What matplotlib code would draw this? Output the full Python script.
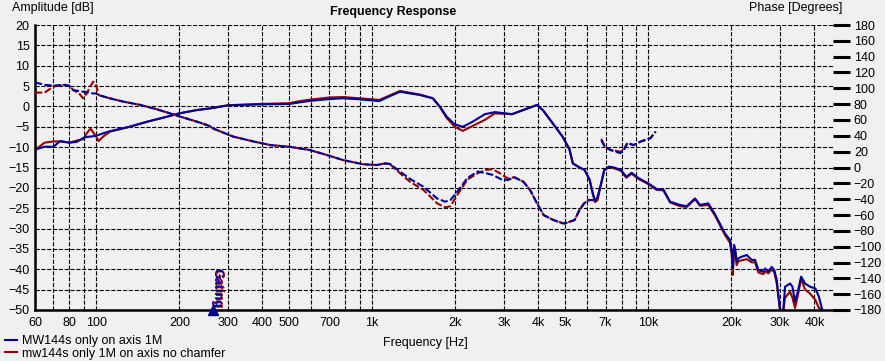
import numpy as np
import matplotlib
matplotlib.use("Agg")
import matplotlib.pyplot as plt
from matplotlib import transforms

plt.rcParams['font.family'] = ['Liberation Sans Narrow', 'Liberation Sans', 'DejaVu Sans']
plt.rcParams['font.size'] = 9

BLUE = '#000096'
RED = '#960000'
BG = '#F0F0F0'

# amplitude (dB) readings
amp_freq = [60, 65, 70, 74, 80, 85, 90, 92.4, 95.4, 100, 102, 106, 112, 132, 153, 174, 200,
            231, 257, 300, 391, 500, 546, 600, 700, 783, 900, 1060, 1157, 1260, 1491, 1658,
            1760, 1860, 1990, 2130, 2310, 2560, 2780, 3210, 3520, 3950, 4150, 4500, 4890,
            5180, 5330, 5640, 5880, 6130, 6300, 6420, 6550, 6750, 6930, 7220, 7520, 7960,
            8330, 8700, 9160, 10010, 10730, 11340, 12000, 13040, 13780, 14770, 15400, 16500,
            17450, 18970, 19780, 20070, 20250, 20450, 20630, 20900, 21200, 21820, 22740,
            23710, 24380, 25060, 26120, 26500, 27240, 28010, 28630, 29210, 30020, 30860,
            31300, 32640, 33300, 34020, 34920, 35800, 37000, 38600, 40300, 41500, 42700]
amp_blue = [-10.6, -9.9, -9.9, -8.5, -8.9, -8.7, -7.7, -7.5, -7.4, -7.2, -7.0, -6.6, -6.1,
            -5.0, -3.75, -2.8, -1.7, -0.9, -0.5, 0.25, 0.5, 0.6, 1.0, 1.4, 1.8, 2.0, 1.75,
            1.3, 2.5, 3.6, 2.8, 2.0, -0.1, -2.5, -4.4, -5.0, -3.75, -1.9, -1.4, -1.9, -0.9,
            0.35, -0.9, -4.1, -7.4, -10.5, -14, -15, -15.6, -18, -21.4, -23.3, -22.2, -18.9,
            -15.6, -14.8, -15, -15.6, -17.3, -16.3, -17.5, -18.9, -20.3, -20.4, -23.4, -24.2,
            -24.5, -22.6, -24.2, -23.8, -26.5, -31.2, -32.8, -35.7, -39.7, -34, -34.8, -38,
            -37.3, -36.9, -36.5, -37.7, -37.7, -40.2, -40.6, -39.8, -40.6, -39.4, -40.2,
            -42.6, -50, -50, -44.3, -43.5, -44.3, -48, -45.1, -41.8, -43.5, -44.3, -44.7,
            -46.7, -50]
amp_red = [-10.7, -8.9, -8.6, -8.6, -8.9, -8.4, -8.0, -6.6, -5.4, -7.5, -8.5, -7.4, -6.2,
           -5.0, -3.75, -2.8, -1.7, -0.9, -0.5, 0.3, 0.6, 0.8, 1.3, 1.7, 2.2, 2.3, 2.0,
           1.6, 2.7, 3.8, 2.9, 2.0, -0.2, -2.8, -5.0, -6.0, -4.8, -3.3, -1.7, -1.9, -0.9,
           0.35, -0.9, -4.1, -7.4, -10.5, -14, -15, -15.6, -18, -21.6, -23.5, -23, -19,
           -15.6, -14.8, -15.2, -15.8, -17.5, -16.5, -17.7, -19.1, -20.5, -20.6, -23.6, -24.5,
           -24.7, -22.8, -24.4, -24.2, -26.8, -31.6, -33.5, -36.5, -41.4, -35, -35.5, -39,
           -38, -37.8, -37.5, -38.3, -38.3, -40.8, -41.2, -40.5, -41, -40, -40.8,
           -43.5, -50, -50, -47, -45.5, -47, -49.5, -46, -42.3, -45, -46, -47.5,
           -49.5, -50]

# phase (degrees) readings, nan = gap in the trace
ph_freq = [60, 65, 70, 77, 80, 82.5, 86.7, 89.6, 92.4, 95.4, 97.6, 100, 102, 112, 125, 145,
           166, 188, 211, 238, 257, 265, 313, 371, 428, 502, 593, 683, 785, 927, 1039, 1110,
           1157, 1260, 1370, 1532, 1717, 1838, 1920, 2030, 2210, 2410, 2580, 2730, 2930,
           3100, 3270, 3530, 3730, 3950, 4180, 4530, 4910, 5000, 5410, 5640, 5860, 6100,
           6350, 6550, 6760, 6960, 7300, 7930, 8150, 8400, 8850, 9400, 10180, 10640]
ph_blue = [107.5, 104.4, 103.4, 104.4, 102.9, 97.7, 96.5, 95.7, 95, 94, 93.5, 93.6, 91.5,
           87.4, 83.3, 78.9, 73.5, 67.6, 62.2, 56.6, 52.5, 49.3, 39.1, 32.9, 28.3, 26.2,
           22.1, 15.9, 9.3, 4.1, 3.1, 5.1, 4.6, -5.1, -14.4, -24.2, -39.1, -43.2, -41.1,
           -30.9, -13.4, -5.1, -7.2, -9.3, -14.9, -15.9, -12.3, -18, -28.3, -45.2, -60.2,
           -66.3, -70.5, -70.5, -66.3, -53.5, -45.2, -41.1, -41.1, np.nan, 34.5, 26.2, 22.1,
           18.0, 22.1, 30.9, 28.3, 32.9, 37.0, 45.3]
ph_red = [94.6, 94.6, 102.3, 104.4, 102.9, 98, 93.6, 87.4, 93.6, 103, 108.5, 103.4, 91.5,
          87.4, 83.3, 78.9, 73.5, 67.6, 62.2, 56.6, 52.5, 49.3, 39.1, 32.9, 28.3, 26.2,
          22.1, 15.9, 9.3, 4.1, 3.1, 5.1, 4.6, -7.2, -18, -28.3, -45.2, -50.4, -48.9,
          -35, -15.4, -7.2, -3.1, -2.1, -8.2, -13.9, -12.3, -18, -28.3, -45.2, -60.2,
          -66.3, -70.5, -70.5, -66.3, -53.5, -45.2, -41.1, -41.1, np.nan, 36, 26.2, 22.1,
          20.0, 22.1, 30.9, 28.3, 32.9, 37.0, 45.3]

grid_freqs = [70, 80, 90, 100, 200, 300, 400, 500, 600, 700, 800, 900, 1000, 2000, 3000,
              4000, 5000, 6000, 7000, 8000, 9000, 10000, 20000, 30000, 40000]
tick_labels = {60: '60', 80: '80', 100: '100', 200: '200', 300: '300', 400: '400',
               500: '500', 700: '700', 1000: '1k', 2000: '2k', 3000: '3k', 4000: '4k',
               5000: '5k', 7000: '7k', 10000: '10k', 20000: '20k', 30000: '30k', 40000: '40k'}
gating_freq = 264.6

W, H = 885, 361
fig = plt.figure(figsize=(W / 100, H / 100), dpi=100, facecolor=BG)
ax = fig.add_axes([35 / W, 51 / H, 798 / W, 285 / H])
ax.set_facecolor(BG)
ax.set_xscale('log')
ax.set_xlim(60, 46700)
ax.set_ylim(-50, 20)

# grid
major = [60] + grid_freqs
ax.set_xticks(major)
ax.set_xticklabels([tick_labels.get(f, '') for f in major])
ax.set_xticks([f for f in grid_freqs if f not in tick_labels], minor=True)
ax.xaxis.set_minor_formatter(matplotlib.ticker.NullFormatter())
ax.set_yticks(np.arange(-50, 21, 5))
ax.tick_params(axis='x', which='major', length=0, pad=5)
ax.tick_params(axis='x', which='minor', length=5, width=0.8, color='black')
ax.tick_params(axis='y', length=0, pad=4)
ax.grid(True, which='both', axis='x', color='black', lw=0.8, ls=(0, (3.75, 1.5)))
ax.grid(True, which='major', axis='y', color='black', lw=0.8, ls=(0, (3.75, 1.5)))
ax.set_axisbelow(True)
for s in ['top', 'right']:
    ax.spines[s].set_visible(False)
for s in ['left', 'bottom']:
    ax.spines[s].set_linewidth(1.8)

ax.plot(amp_freq, amp_red, color=RED, lw=1.5, label='mw144s only 1M on axis no chamfer')
ax.plot(amp_freq, amp_blue, color=BLUE, lw=1.5, label='MW144s only on axis 1M')

ax2 = ax.twinx()
ax2.set_ylim(-180, 180)
ax2.set_yticks(np.arange(-180, 181, 20))
ax2.tick_params(axis='y', direction='out', length=12, width=2.2, pad=3)
for s in ax2.spines.values():
    s.set_visible(False)
ax2.plot(ph_freq, ph_red, color=RED, lw=1.5, ls=(0, (3.5, 1.2)))
ax2.plot(ph_freq, ph_blue, color=BLUE, lw=1.5, ls=(0, (3.5, 1.2)))

# gating marker
ax.plot([gating_freq], [-50], marker='^', color=BLUE, ms=7, clip_on=False, zorder=10)
shadow = transforms.offset_copy(ax.transData, fig=fig, x=1, y=-1, units='dots')
ax.text(gating_freq * 1.03, -44.6, 'Gating', rotation=-90, ha='center', va='center',
        color=RED, fontweight='bold', transform=shadow)
ax.text(gating_freq * 1.03, -44.6, 'Gating', rotation=-90, ha='center', va='center',
        color=BLUE, fontweight='bold')

fig.text(12 / W, 1 - 8 / H, 'Amplitude [dB]', ha='left', va='center')
fig.text(842 / W, 1 - 8 / H, 'Phase [Degrees]', ha='right', va='center')
fig.text(393 / W, 1 - 12 / H, 'Frequency Response', ha='center', va='center', fontweight='bold')
fig.text(425 / W, 1 - 343 / H, 'Frequency [Hz]', ha='center', va='center')

h, l = ax.get_legend_handles_labels()
fig.legend(h[::-1], l[::-1], loc='lower left', bbox_to_anchor=(2 / W, -1 / H), frameon=False,
           handlelength=1.0, handletextpad=0.4, labelspacing=0.05, borderpad=0.2,
           borderaxespad=0.0)

fig.savefig('out.png', dpi=100, facecolor=BG)
